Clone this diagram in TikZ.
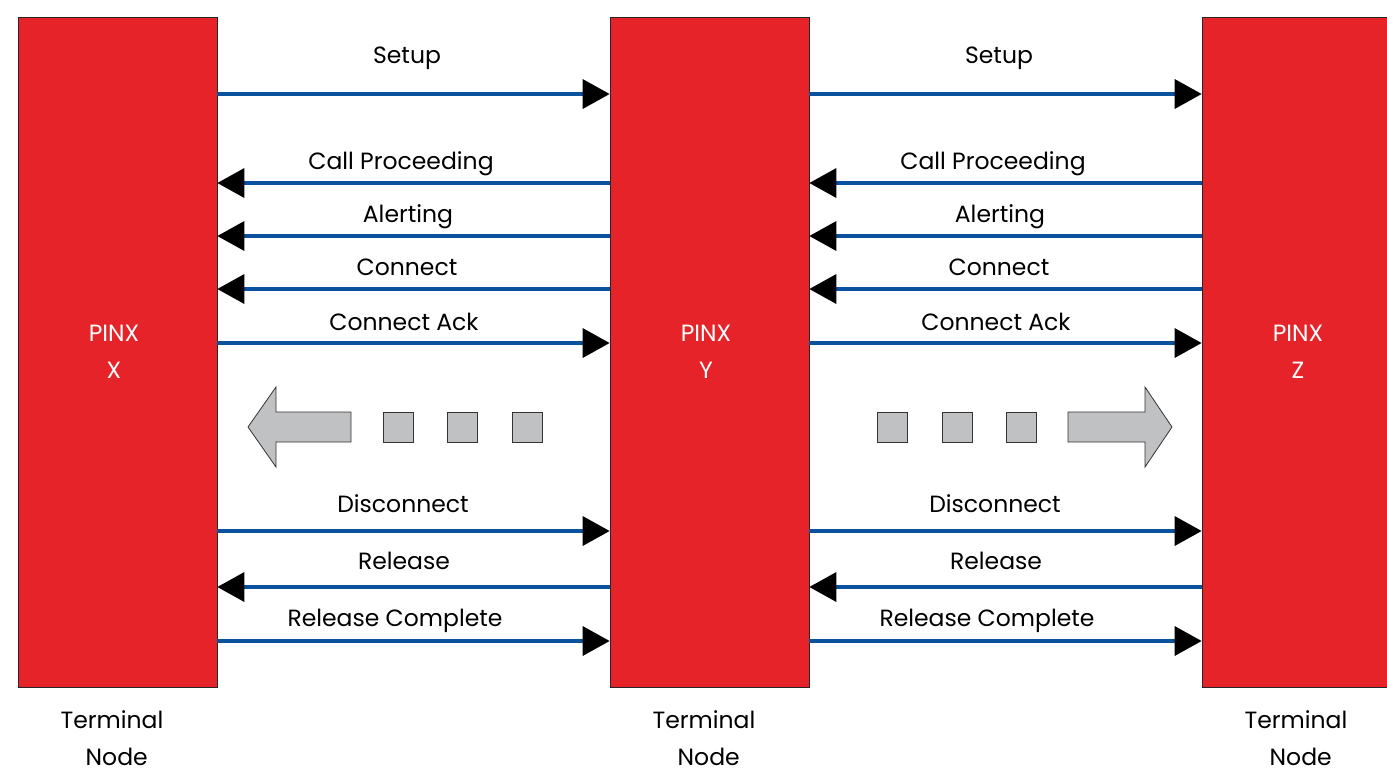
\documentclass[tikz,border=0pt]{standalone}
\usepackage{fontspec}
\setmainfont{Poppins}
\usetikzlibrary{arrows.meta,positioning}
\definecolor{pinxred}{RGB}{230,35,41}
\definecolor{msgblue}{RGB}{10,82,158}
\definecolor{dotgrey}{RGB}{192,193,195}
\newcommand{\fsz}{\fontsize{23.5}{37}\selectfont}

\begin{document}
\begin{tikzpicture}[
        x=1pt, y=-1pt,
        pinx/.style={draw=black!85, fill=pinxred, line width=0.8pt, minimum width=199pt, minimum height=670pt, inner sep=0pt},
        pinxtxt/.style={text=white, align=center, font=\fsz, anchor=base},
        msg/.style={draw=msgblue, line width=3.2pt, -{Triangle[length=27pt, width=30pt, line width=0pt, color=black]}},
        lbl/.style={font=\fsz, anchor=base},
        term/.style={font=\fsz, align=center, anchor=base, inner sep=0pt},
        dot/.style={draw=black!80, fill=dotgrey, line width=0.8pt, minimum size=30pt, inner sep=0pt},
        bigarr/.style={draw=black!80, fill=dotgrey, line width=0.8pt, line join=miter},
    ]
        \useasboundingbox (0,0) rectangle (1387,772);

        % the three PINX
        \node[pinx] (px) at (117.5,352) {};
        \node[pinx] (py) at (709.5,352) {};
        \node[pinx] (pz) at (1301.5,352) {};
        \node[pinxtxt] (pxname) at (114,378) {PINX\\X};
        \node[pinxtxt] (pyname) at (706,378) {PINX\\Y};
        \node[pinxtxt] (pzname) at (1298,378) {PINX\\Z};
        \node[term] (pxterm) at (112,765) {Terminal\\\hspace*{0.4em}Node};
        \node[term] (pyterm) at (704,765) {Terminal\\\hspace*{0.4em}Node};
        \node[term] (pzterm) at (1296,765) {Terminal\\\hspace*{0.4em}Node};

        % X <-> Y
        \draw[msg] (px.east |- 0,94) -- (py.west |- 0,94);
        \draw[msg] (py.west |- 0,183) -- (px.east |- 0,183);
        \draw[msg] (py.west |- 0,236) -- (px.east |- 0,236);
        \draw[msg] (py.west |- 0,289) -- (px.east |- 0,289);
        \draw[msg] (px.east |- 0,343) -- (py.west |- 0,343);
        \draw[msg] (px.east |- 0,531) -- (py.west |- 0,531);
        \draw[msg] (py.west |- 0,587) -- (px.east |- 0,587);
        \draw[msg] (px.east |- 0,641) -- (py.west |- 0,641);
        \node[lbl] (setupxy) at (407,63) {Setup};
        \node[lbl] (procxy) at (401,169) {Call Proceeding};
        \node[lbl] (alertxy) at (408,222) {Alerting};
        \node[lbl] (connxy) at (407,275) {Connect};
        \node[lbl] (ackxy) at (404,330) {Connect Ack};
        \node[lbl] (discxy) at (403,512) {Disconnect};
        \node[lbl] (relxy) at (404,569) {Release};
        \node[lbl] (compxy) at (395,626) {Release Complete};

        % Y <-> Z
        \draw[msg] (py.east |- 0,94) -- (pz.west |- 0,94);
        \draw[msg] (pz.west |- 0,183) -- (py.east |- 0,183);
        \draw[msg] (pz.west |- 0,236) -- (py.east |- 0,236);
        \draw[msg] (pz.west |- 0,289) -- (py.east |- 0,289);
        \draw[msg] (py.east |- 0,343) -- (pz.west |- 0,343);
        \draw[msg] (py.east |- 0,531) -- (pz.west |- 0,531);
        \draw[msg] (pz.west |- 0,587) -- (py.east |- 0,587);
        \draw[msg] (py.east |- 0,641) -- (pz.west |- 0,641);
        \node[lbl] (setupyz) at (999,63) {Setup};
        \node[lbl] (procyz) at (993,169) {Call Proceeding};
        \node[lbl] (alertyz) at (1000,222) {Alerting};
        \node[lbl] (connyz) at (999,275) {Connect};
        \node[lbl] (ackyz) at (996,330) {Connect Ack};
        \node[lbl] (discyz) at (995,512) {Disconnect};
        \node[lbl] (relyz) at (996,569) {Release};
        \node[lbl] (compyz) at (987,626) {Release Complete};

        % more messages
        \draw[bigarr] (351,412) -- (276,412) -- (276,387) -- (248,427) -- (276,467) -- (276,442) -- (351,442) -- cycle;
        \node[dot] (dx1) at (398,427) {};
        \node[dot] (dx2) at (462,427) {};
        \node[dot] (dx3) at (527,427) {};
        \node[dot] (dz1) at (892,427) {};
        \node[dot] (dz2) at (957,427) {};
        \node[dot] (dz3) at (1021,427) {};
        \draw[bigarr] (1068,412) -- (1145,412) -- (1145,387) -- (1172,427) -- (1145,467) -- (1145,442) -- (1068,442) -- cycle;
    \end{tikzpicture}
\end{document}
